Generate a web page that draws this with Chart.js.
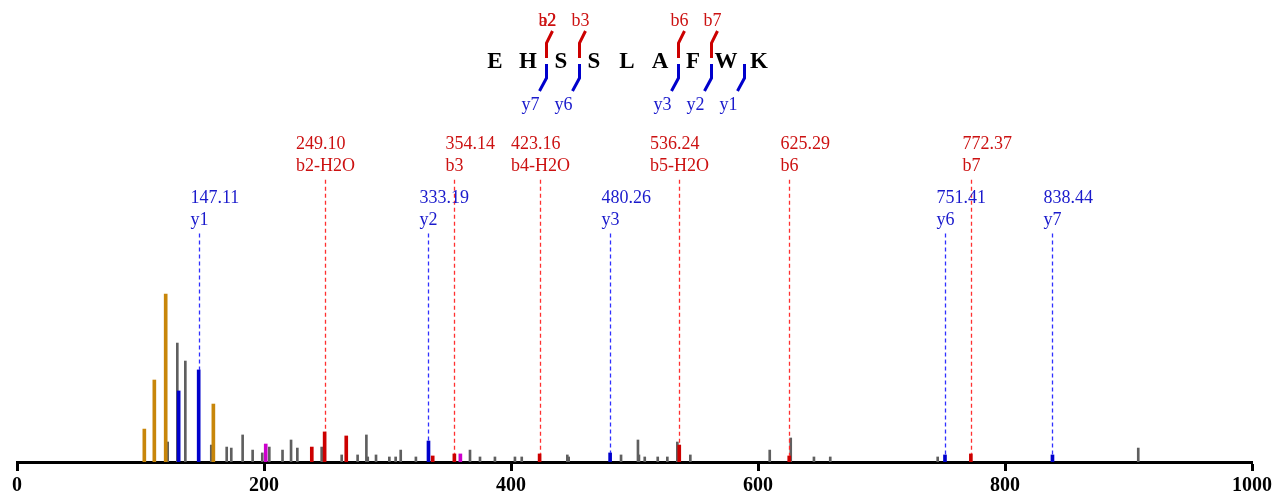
<!DOCTYPE html>
<html>
<head>
<meta charset="utf-8">
<title>EHSSLAFWK</title>
<script src="https://cdn.jsdelivr.net/npm/chart.js@4/dist/chart.umd.min.js"></script>
<style>
    html, body { margin: 0; padding: 0; background: #fff; }
    #wrap { width: 1273px; height: 497px; }
</style>
</head>
<body>
<div id="wrap"><canvas id="spectrum"></canvas></div>
<script>
// 峰数据 (m/z, 相对强度)
const orangeMz = [103.1, 111.2, 120.4, 159.0];
const orangeInt = [19.6, 48.8, 100, 34.5];

const blueMz = [130.9, 147.11, 333.19, 480.26, 751.41, 838.44];
const blueInt = [42.3, 54.8, 12.5, 5.4, 4.2, 4.2];

const redMz = [238.7, 249.10, 266.6, 336.6, 354.14, 423.16, 536.24, 625.29, 772.37];
const redInt = [8.9, 17.9, 15.5, 3.6, 4.8, 4.8, 10.1, 3.6, 4.8];

const magentaMz = [201.4, 359.0];
const magentaInt = [10.7, 4.8];

const grayMz = [122.0, 129.8, 136.3, 157.3, 169.8, 173.5, 182.7, 190.8, 198.6, 204.3,
    215.0, 221.9, 227.0, 246.7, 262.9, 275.8, 282.9, 284.0, 290.7, 301.5, 306.6, 310.7,
    323.0, 366.8, 374.9, 387.0, 403.2, 408.7, 445.6, 446.7, 489.1, 502.8, 503.6, 508.3,
    518.8, 526.6, 534.7, 545.2, 609.5, 626.5, 645.3, 658.5, 745.5, 907.9];
const grayInt = [11.9, 70.8, 60.1, 10.1, 8.9, 8.3, 16.1, 7.1, 5.4, 8.9,
    7.1, 13.1, 8.3, 8.9, 4.2, 4.2, 16.1, 3.0, 4.2, 3.0, 3.0, 7.1,
    3.0, 7.1, 3.0, 3.0, 3.0, 3.0, 4.2, 3.0, 4.2, 13.1, 4.2, 3.0,
    3.0, 3.0, 11.9, 4.2, 7.1, 14.3, 3.0, 3.0, 3.0, 8.3];

// 标注
const bIonNames = ['b2-H2O', 'b3', 'b4-H2O', 'b5-H2O', 'b6', 'b7'];
const bIonMz = [249.10, 354.14, 423.16, 536.24, 625.29, 772.37];
const yIonNames = ['y1', 'y2', 'y3', 'y6', 'y7'];
const yIonMz = [147.11, 333.19, 480.26, 751.41, 838.44];

// 肽段序列及断裂位点
const sequence = ['E', 'H', 'S', 'S', 'L', 'A', 'F', 'W', 'K'];
const bSites = [2, 3, 6, 7];
const bSiteNames = ['b2', 'b3', 'b6', 'b7'];
const aSites = [2];
const aSiteNames = ['a2'];
const ySites = [2, 3, 6, 7, 8];
const ySiteNames = ['y7', 'y6', 'y3', 'y2', 'y1'];

const xTicks = [0, 200, 400, 600, 800, 1000];

const RED = '#cc0000';
const BLUE = '#0000cc';
const SERIF = '"Liberation Serif", "Times New Roman", serif';

function points(mz, inten) {
    return mz.map((m, i) => ({ x: m, y: inten[i] }));
}

function peakHeight(mz, list, inten) {
    let best = 0, d = 1e9;
    list.forEach((m, i) => {
        if (Math.abs(m - mz) < d) { d = Math.abs(m - mz); best = inten[i]; }
    });
    return best;
}

const annotPlugin = {
    id: 'annot',
    afterDatasetsDraw(chart) {
        const ctx = chart.ctx;
        const xs = chart.scales.x;
        const ys = chart.scales.y;

        function drawLabels(names, mzs, peaks, inten, level, lineColor, textColor) {
            names.forEach((name, i) => {
                const x = Math.round(xs.getPixelForValue(mzs[i])) + 0.5;
                const top = ys.getPixelForValue(level);
                const bottom = ys.getPixelForValue(peakHeight(mzs[i], peaks, inten));
                ctx.save();
                ctx.strokeStyle = lineColor;
                ctx.lineWidth = 1.3;
                ctx.setLineDash([4, 3]);
                ctx.beginPath();
                ctx.moveTo(x, top);
                ctx.lineTo(x, bottom);
                ctx.stroke();
                ctx.restore();

                ctx.save();
                ctx.font = '18px ' + SERIF;
                ctx.fillStyle = textColor;
                ctx.textBaseline = 'middle';
                ctx.textAlign = 'left';
                const left = x - ctx.measureText(name).width / 2;
                ctx.fillText(name, left, top - 13);
                ctx.fillText(mzs[i].toFixed(2), left, top - 35);
                ctx.restore();
            });
        }

        drawLabels(bIonNames, bIonMz, redMz, redInt, 168, '#ff3030', '#cc1111');
        drawLabels(yIonNames, yIonMz, blueMz, blueInt, 136, '#3030ff', '#1a1acc');

        // 序列
        const seqX0 = 495, step = 33, seqY = 62;
        ctx.save();
        ctx.font = 'bold 23px ' + SERIF;
        ctx.fillStyle = '#000';
        ctx.textAlign = 'center';
        ctx.textBaseline = 'middle';
        sequence.forEach((aa, i) => ctx.fillText(aa, seqX0 + i * step, seqY));
        ctx.restore();

        const siteX = k => seqX0 + (k - 0.5) * step + 2;

        ctx.save();
        ctx.lineWidth = 3;
        ctx.lineCap = 'butt';
        ctx.strokeStyle = RED;
        bSites.forEach(k => {
            const x = siteX(k);
            ctx.beginPath();
            ctx.moveTo(x, 58);
            ctx.lineTo(x, 43);
            ctx.lineTo(x + 6, 31);
            ctx.stroke();
        });
        ctx.strokeStyle = BLUE;
        ySites.forEach(k => {
            const x = siteX(k);
            ctx.beginPath();
            ctx.moveTo(x, 64);
            ctx.lineTo(x, 78);
            ctx.lineTo(x - 7, 91);
            ctx.stroke();
        });

        ctx.font = '18px ' + SERIF;
        ctx.textAlign = 'center';
        ctx.textBaseline = 'middle';
        ctx.fillStyle = '#cc1111';
        aSites.forEach((k, i) => ctx.fillText(aSiteNames[i], siteX(k) + 1, 21));
        bSites.forEach((k, i) => ctx.fillText(bSiteNames[i], siteX(k) + 1, 21));
        ctx.fillStyle = '#1a1acc';
        ySites.forEach((k, i) => ctx.fillText(ySiteNames[i], siteX(k) - 16, 105));
        ctx.restore();
    }
};

function peakSet(mz, inten, color, thick) {
    return {
        data: points(mz, inten),
        backgroundColor: color,
        borderWidth: 0,
        barThickness: thick,
        grouped: false
    };
}

document.addEventListener('DOMContentLoaded', function() {
    new Chart(document.getElementById('spectrum'), {
        type: 'bar',
        data: {
            datasets: [
                peakSet(redMz, redInt, RED, 3),
                peakSet(blueMz, blueInt, BLUE, 3),
                peakSet(orangeMz, orangeInt, '#c8860a', 3),
                peakSet(magentaMz, magentaInt, '#cc00cc', 3),
                peakSet(grayMz, grayInt, '#5f5f5f', 2)
            ]
        },
        options: {
            responsive: true,
            maintainAspectRatio: false,
            animation: false,
            layout: { padding: { left: 17, right: 21, top: 0, bottom: 0 } },
            plugins: {
                legend: { display: false },
                tooltip: { enabled: false }
            },
            scales: {
                x: {
                    type: 'linear',
                    min: 0,
                    max: 1000,
                    offset: false,
                    afterBuildTicks: s => { s.ticks = xTicks.map(v => ({ value: v })); },
                    afterFit: s => {
                        s.height = 35;
                        s.paddingLeft = 0;
                        s.paddingRight = 0;
                    },
                    border: { display: true, color: '#000', width: 3 },
                    grid: {
                        display: true,
                        offset: false,
                        drawOnChartArea: false,
                        drawTicks: true,
                        tickLength: 9,
                        tickWidth: 3,
                        tickColor: '#000'
                    },
                    ticks: {
                        color: '#000',
                        padding: 3,
                        maxRotation: 0,
                        callback: v => String(v),
                        font: { family: SERIF, size: 20, weight: 'bold' }
                    }
                },
                y: {
                    display: false,
                    min: 0,
                    max: 275
                }
            }
        },
        plugins: [annotPlugin]
    });
});
</script>
</body>
</html>
